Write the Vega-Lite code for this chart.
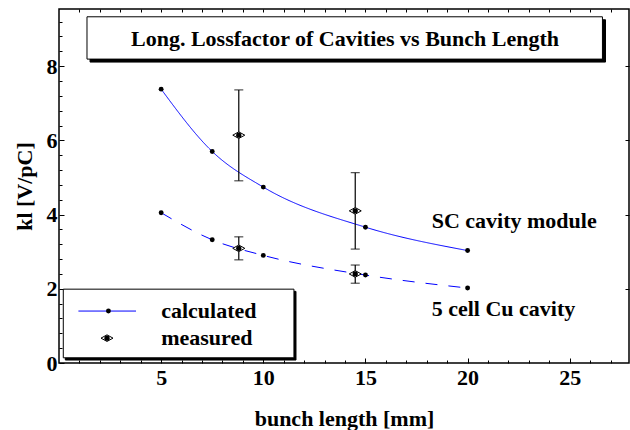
{
  "$schema": "https://vega.github.io/schema/vega-lite/v6.json",
  "width": 570,
  "height": 354,
  "autosize": {"type": "none"},
  "padding": {"left": 59, "top": 9, "right": 1, "bottom": 67},
  "background": "white",
  "datasets": {
    "calc": [
      {"x": 5, "y": 7.38, "series": "SC cavity module"},
      {"x": 7.5, "y": 5.70, "series": "SC cavity module"},
      {"x": 10, "y": 4.74, "series": "SC cavity module"},
      {"x": 15, "y": 3.66, "series": "SC cavity module"},
      {"x": 20, "y": 3.03, "series": "SC cavity module"},
      {"x": 5, "y": 4.05, "series": "5 cell Cu cavity"},
      {"x": 7.5, "y": 3.32, "series": "5 cell Cu cavity"},
      {"x": 10, "y": 2.90, "series": "5 cell Cu cavity"},
      {"x": 15, "y": 2.37, "series": "5 cell Cu cavity"},
      {"x": 20, "y": 2.02, "series": "5 cell Cu cavity"}
    ],
    "meas": [
      {"x": 8.8, "y": 6.14, "lo": 4.91, "hi": 7.36, "series": "SC cavity module"},
      {"x": 14.5, "y": 4.10, "lo": 3.07, "hi": 5.13, "series": "SC cavity module"},
      {"x": 8.8, "y": 3.09, "lo": 2.78, "hi": 3.40, "series": "5 cell Cu cavity"},
      {"x": 14.5, "y": 2.40, "lo": 2.15, "hi": 2.64, "series": "5 cell Cu cavity"}
    ],
    "boxes": [
      {"x1": 1.52, "x2": 26.75, "y1": 8.11, "y2": 9.25, "kind": "shadow"},
      {"x1": 1.37, "x2": 26.6, "y1": 8.19, "y2": 9.33, "kind": "box"},
      {"x1": 0.31, "x2": 11.6, "y1": 0.08, "y2": 1.93, "kind": "shadow"},
      {"x1": 0.21, "x2": 11.5, "y1": 0.14, "y2": 1.99, "kind": "box"}
    ],
    "title": [
      {"x": 14, "y": 8.73, "text": "Long. Lossfactor of Cavities vs Bunch Length"}
    ],
    "labels": [
      {"x": 18.24, "y": 3.84, "text": "SC cavity module"},
      {"x": 18.24, "y": 1.45, "text": "5 cell Cu cavity"},
      {"x": 5.0, "y": 1.40, "text": "calculated"},
      {"x": 5.0, "y": 0.67, "text": "measured"}
    ],
    "legline": [
      {"x": 0.95, "y": 1.40},
      {"x": 3.77, "y": 1.40}
    ],
    "legdot": [
      {"x": 2.42, "y": 1.40}
    ],
    "legmeas": [
      {"x": 2.35, "y": 0.67}
    ]
  },
  "resolve": {"axis": {"x": "independent", "y": "independent"}},
  "layer": [
    {
      "data": {"name": "boxes"},
      "mark": {"type": "rect", "stroke": "black", "strokeWidth": 1},
      "encoding": {
        "x": {"field": "x1", "type": "quantitative", "scale": {"domain": [0, 27.9], "nice": false, "zero": false}, "axis": null},
        "x2": {"field": "x2"},
        "y": {"field": "y1", "type": "quantitative", "scale": {"domain": [0, 9.54], "nice": false, "zero": false}, "axis": null},
        "y2": {"field": "y2"},
        "fill": {"field": "kind", "type": "nominal", "scale": {"domain": ["shadow", "box"], "range": ["black", "white"]}, "legend": null}
      }
    },
    {
      "data": {"name": "title"},
      "mark": {"type": "text", "align": "center", "baseline": "middle", "font": "Liberation Serif", "fontWeight": "bold", "fontSize": 22, "color": "black"},
      "encoding": {
        "x": {"field": "x", "type": "quantitative", "scale": {"domain": [0, 27.9], "nice": false, "zero": false}, "axis": null},
        "y": {"field": "y", "type": "quantitative", "scale": {"domain": [0, 9.54], "nice": false, "zero": false}, "axis": null},
        "text": {"field": "text"}
      }
    },
    {
      "data": {"name": "labels"},
      "mark": {"type": "text", "align": "left", "baseline": "middle", "font": "Liberation Serif", "fontWeight": "bold", "fontSize": 22, "color": "black"},
      "encoding": {
        "x": {"field": "x", "type": "quantitative", "scale": {"domain": [0, 27.9], "nice": false, "zero": false}, "axis": null},
        "y": {"field": "y", "type": "quantitative", "scale": {"domain": [0, 9.54], "nice": false, "zero": false}, "axis": null},
        "text": {"field": "text"}
      }
    },
    {
      "data": {"name": "calc"},
      "mark": {"type": "line", "color": "#0000ff", "strokeWidth": 1, "interpolate": "monotone"},
      "encoding": {
        "x": {"field": "x", "type": "quantitative", "scale": {"domain": [0, 27.9], "nice": false, "zero": false},
          "axis": {"orient": "bottom", "values": [5, 10, 15, 20, 25], "tickSize": -5, "labelPadding": 9, "labelBaseline": "top", "title": "bunch length [mm]", "titlePadding": 20}},
        "y": {"field": "y", "type": "quantitative", "scale": {"domain": [0, 9.54], "nice": false, "zero": false},
          "axis": {"orient": "left", "values": [0, 2, 4, 6, 8], "tickSize": -5, "labelPadding": 7, "title": "kl [V/pC]", "titlePadding": 10}},
        "detail": {"field": "series"},
        "strokeDash": {"field": "series", "type": "nominal", "scale": {"domain": ["SC cavity module", "5 cell Cu cavity"], "range": [[1, 0], [12, 11]]}, "legend": null}
      }
    },
    {
      "data": {"name": "legline"},
      "mark": {"type": "line", "color": "#0000ff", "strokeWidth": 1},
      "encoding": {
        "x": {"field": "x", "type": "quantitative", "scale": {"domain": [0, 27.9], "nice": false, "zero": false}, "axis": null},
        "y": {"field": "y", "type": "quantitative", "scale": {"domain": [0, 9.54], "nice": false, "zero": false}, "axis": null}
      }
    },
    {
      "data": {"name": "meas"},
      "mark": {"type": "rule", "color": "black", "strokeWidth": 1.2},
      "encoding": {
        "x": {"field": "x", "type": "quantitative", "scale": {"domain": [0, 27.9], "nice": false, "zero": false}, "axis": null},
        "y": {"field": "lo", "type": "quantitative", "scale": {"domain": [0, 9.54], "nice": false, "zero": false}, "axis": null},
        "y2": {"field": "hi"}
      }
    },
    {
      "data": {"name": "meas"},
      "mark": {"type": "tick", "orient": "horizontal", "color": "black", "size": 9, "thickness": 1.2},
      "encoding": {
        "x": {"field": "x", "type": "quantitative", "scale": {"domain": [0, 27.9], "nice": false, "zero": false}, "axis": null},
        "y": {"field": "lo", "type": "quantitative", "scale": {"domain": [0, 9.54], "nice": false, "zero": false}, "axis": null}
      }
    },
    {
      "data": {"name": "meas"},
      "mark": {"type": "tick", "orient": "horizontal", "color": "black", "size": 9, "thickness": 1.2},
      "encoding": {
        "x": {"field": "x", "type": "quantitative", "scale": {"domain": [0, 27.9], "nice": false, "zero": false}, "axis": null},
        "y": {"field": "hi", "type": "quantitative", "scale": {"domain": [0, 9.54], "nice": false, "zero": false}, "axis": null}
      }
    },
    {
      "data": {"name": "meas"},
      "mark": {"type": "point", "shape": "M -1 0 L 0 -0.55 L 1 0 L 0 0.55 Z", "size": 144, "filled": true, "fill": "white", "stroke": "black", "strokeWidth": 1, "opacity": 1},
      "encoding": {
        "x": {"field": "x", "type": "quantitative", "scale": {"domain": [0, 27.9], "nice": false, "zero": false},
          "axis": {"orient": "top", "values": [1,2,3,4,5,6,7,8,9,10,11,12,13,14,15,16,17,18,19,20,21,22,23,24,25,26,27], "tickSize": -3, "labels": false, "title": null}},
        "y": {"field": "y", "type": "quantitative", "scale": {"domain": [0, 9.54], "nice": false, "zero": false},
          "axis": {"orient": "right", "values": [2, 4, 6, 8], "tickSize": -4, "labels": false, "title": null}}
      }
    },
    {
      "data": {"name": "meas"},
      "mark": {"type": "circle", "size": 28, "color": "black", "opacity": 1},
      "encoding": {
        "x": {"field": "x", "type": "quantitative", "scale": {"domain": [0, 27.9], "nice": false, "zero": false}, "axis": null},
        "y": {"field": "y", "type": "quantitative", "scale": {"domain": [0, 9.54], "nice": false, "zero": false}, "axis": null}
      }
    },
    {
      "data": {"name": "calc"},
      "mark": {"type": "circle", "size": 24, "color": "black", "opacity": 1},
      "encoding": {
        "x": {"field": "x", "type": "quantitative", "scale": {"domain": [0, 27.9], "nice": false, "zero": false},
          "axis": {"orient": "bottom", "values": [1,2,3,4,6,7,8,9,11,12,13,14,16,17,18,19,21,22,23,24,26,27], "tickSize": -3, "labels": false, "title": null}},
        "y": {"field": "y", "type": "quantitative", "scale": {"domain": [0, 9.54], "nice": false, "zero": false},
          "axis": {"orient": "left", "values": [0.4,0.8,1.2,1.6,2.4,2.8,3.2,3.6,4.4,4.8,5.2,5.6,6.4,6.8,7.2,7.6,8.4,8.8,9.2], "tickSize": -3, "labels": false, "title": null}}
      }
    },
    {
      "data": {"name": "legdot"},
      "mark": {"type": "circle", "size": 24, "color": "black", "opacity": 1},
      "encoding": {
        "x": {"field": "x", "type": "quantitative", "scale": {"domain": [0, 27.9], "nice": false, "zero": false}, "axis": null},
        "y": {"field": "y", "type": "quantitative", "scale": {"domain": [0, 9.54], "nice": false, "zero": false}, "axis": null}
      }
    },
    {
      "data": {"name": "legmeas"},
      "mark": {"type": "point", "shape": "M -1 0 L 0 -0.55 L 1 0 L 0 0.55 Z", "size": 144, "filled": true, "fill": "white", "stroke": "black", "strokeWidth": 1, "opacity": 1},
      "encoding": {
        "x": {"field": "x", "type": "quantitative", "scale": {"domain": [0, 27.9], "nice": false, "zero": false}, "axis": null},
        "y": {"field": "y", "type": "quantitative", "scale": {"domain": [0, 9.54], "nice": false, "zero": false}, "axis": null}
      }
    },
    {
      "data": {"name": "legmeas"},
      "mark": {"type": "circle", "size": 28, "color": "black", "opacity": 1},
      "encoding": {
        "x": {"field": "x", "type": "quantitative", "scale": {"domain": [0, 27.9], "nice": false, "zero": false}, "axis": null},
        "y": {"field": "y", "type": "quantitative", "scale": {"domain": [0, 9.54], "nice": false, "zero": false}, "axis": null}
      }
    }
  ],
  "config": {
    "view": {"stroke": "black", "strokeWidth": 1.5},
    "axis": {
      "grid": false,
      "domain": false,
      "tickColor": "black",
      "tickWidth": 1,
      "labelFont": "Liberation Serif",
      "labelFontWeight": "bold",
      "labelFontSize": 22,
      "labelColor": "black",
      "labelFlush": false,
      "labelOverlap": false,
      "titleFont": "Liberation Serif",
      "titleFontWeight": "bold",
      "titleFontSize": 22,
      "titleColor": "black"
    }
  }
}
